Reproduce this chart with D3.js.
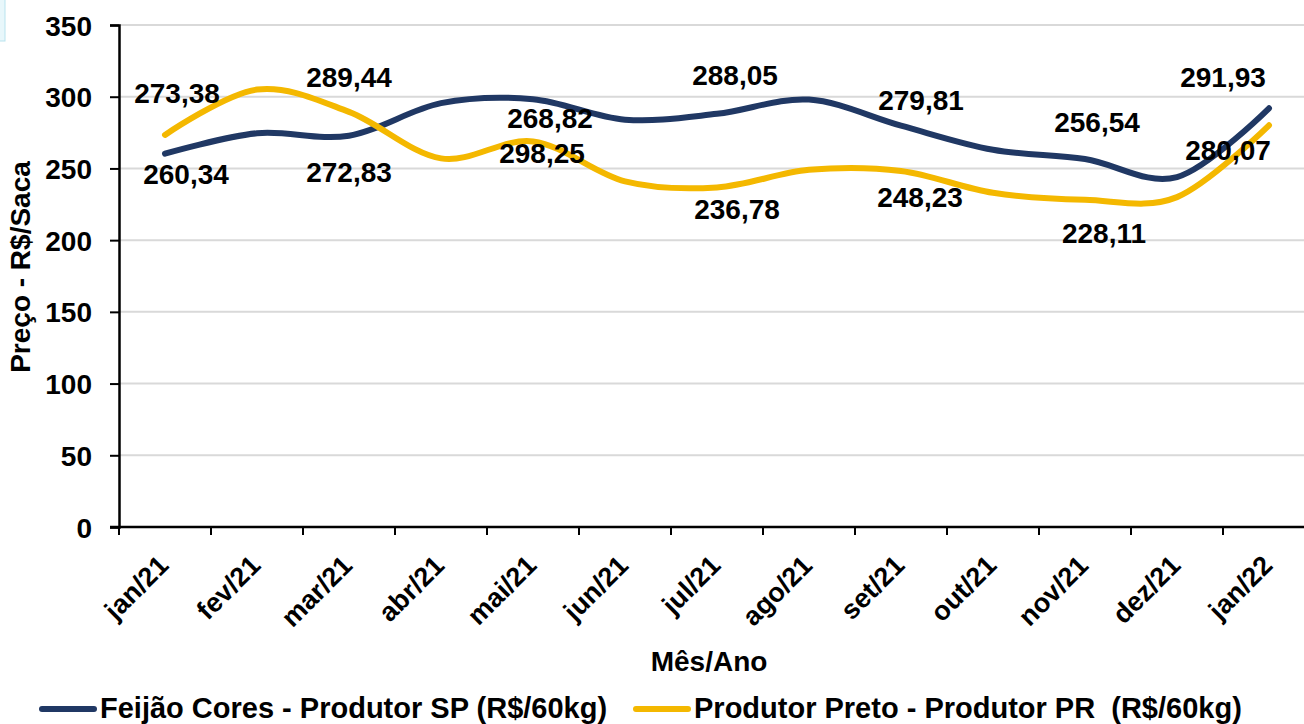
<!DOCTYPE html>
<html>
<head>
<meta charset="utf-8">
<script src="https://cdn.jsdelivr.net/npm/d3@7"></script>
<style>
  body { margin: 0; background: #fff; }
  text { font-family: "Liberation Sans", Arial, sans-serif; font-weight: bold; fill: #000; }
</style>
</head>
<body>
<script>
const months = ["jan/21", "fev/21", "mar/21", "abr/21", "mai/21", "jun/21", "jul/21",
                "ago/21", "set/21", "out/21", "nov/21", "dez/21", "jan/22"];
const coresSP = [260.34, 274.5, 272.83, 295.5, 298.25, 284, 288.05, 298, 279.81, 263, 256.54, 244, 291.93];
const pretoPR = [273.38, 305, 289.44, 257, 268.82, 241, 236.78, 249, 248.23, 233, 228.11, 230, 280.07];
const yTicks = [0, 50, 100, 150, 200, 250, 300, 350];
const labeled = [0, 2, 4, 6, 8, 10, 12];

// label offsets (px) from each point, per series
const coresDx = [21, 0, 0, 0, 9, 0, 18, 0, 20, 0, 12, 0, -46];
const coresDy = [20, 0, 36, 0, 54, 0, -39, 0, -26, 0, -37, 0, -31];
const pretoDx = [12, 0, 0, 0, 17, 0, 20, 0, 19, 0, 19, 0, -41];
const pretoDy = [-42, 0, -35, 0, -24, 0, 22, 0, 26, 0, 33, 0, 25];

const w = 1304, h = 724;
const plotLeft = 119, plotTop = 25, plotBottom = 527, band = 92;

const series = [
  {name: "Feijão Cores - Produtor SP (R$/60kg)", values: coresSP, color: "#203864", dx: coresDx, dy: coresDy},
  {name: "Produtor Preto - Produtor PR  (R$/60kg)", values: pretoPR, color: "#f4b800", dx: pretoDx, dy: pretoDy}
];

const ptBR = d3.formatLocale({decimal: ",", thousands: ".", grouping: [3], currency: ["R$", ""]});
const fmt = ptBR.format(".2f");

const xScale = d3.scaleBand()
                 .domain(months)
                 .range([plotLeft, plotLeft + band * months.length])
                 .padding(0);

const yScale = d3.scaleLinear()
                 .domain([0, 350])
                 .range([plotBottom, plotTop]);

const svg = d3.select("body")
              .append("svg")
              .attr("width", w)
              .attr("height", h)

// small pale box in the corner
svg.append("rect")
   .attr("x", -1).attr("y", -1)
   .attr("width", 6).attr("height", 42)
   .attr("fill", "#e8f7fb")
   .attr("stroke", "#b9e3ee")

// gridlines
svg.append("g")
   .selectAll("line")
   .data(yTicks.filter(d => d > 0))
   .enter()
   .append("line")
   .attr("x1", plotLeft)
   .attr("x2", w)
   .attr("y1", d => yScale(d))
   .attr("y2", d => yScale(d))
   .attr("stroke", "#d9d9d9")
   .attr("stroke-width", 2)

const yAxis = d3.axisLeft(yScale)
                .tickValues(yTicks)
                .tickSize(9)
                .tickPadding(18)

const gy = svg.append("g")
              .attr("id", "y-axis")
              .attr("transform", "translate(" + plotLeft + ",0)")
              .call(yAxis)
gy.select(".domain").attr("stroke", "#000").attr("stroke-width", 2.5)
gy.selectAll(".tick line").attr("stroke", "#000").attr("stroke-width", 2)
gy.selectAll(".tick text")
  .attr("font-size", "28px")
  .attr("dy", "0.36em")
  .attr("fill", "#000")
gy.attr("font-family", null)

// x axis: ticks on category boundaries
const boundaries = months.map(m => xScale(m)).concat([xScale(months[months.length - 1]) + xScale.bandwidth()]);
const gx = svg.append("g").attr("id", "x-axis")
gx.selectAll("line.tk")
  .data(boundaries)
  .enter()
  .append("line")
  .attr("class", "tk")
  .attr("x1", d => d).attr("x2", d => d)
  .attr("y1", plotBottom).attr("y2", plotBottom + 8)
  .attr("stroke", "#000")
  .attr("stroke-width", 2)
gx.append("line")
  .attr("x1", plotLeft - 9).attr("x2", w)
  .attr("y1", plotBottom).attr("y2", plotBottom)
  .attr("stroke", "#000")
  .attr("stroke-width", 2.5)
gx.selectAll("text")
  .data(months)
  .enter()
  .append("text")
  .attr("transform", d => "translate(" + (xScale(d) + xScale.bandwidth() / 2 + 5) + "," + 567 + ") rotate(-45)")
  .attr("text-anchor", "end")
  .attr("font-size", "27px")
  .text(d => d)

// lines
const line = d3.line()
               .x((d, i) => xScale(months[i]) + xScale.bandwidth() / 2)
               .y(d => yScale(d))
               .curve(d3.curveCardinal.tension(0))

series.forEach(function(s) {
  svg.append("path")
     .datum(s.values)
     .attr("d", line)
     .attr("fill", "none")
     .attr("stroke", s.color)
     .attr("stroke-width", 6)
     .attr("stroke-linecap", "round")
})

// data labels
series.forEach(function(s) {
  svg.append("g")
     .selectAll("text")
     .data(labeled)
     .enter()
     .append("text")
     .attr("x", i => xScale(months[i]) + xScale.bandwidth() / 2 + s.dx[i])
     .attr("y", i => yScale(s.values[i]) + s.dy[i])
     .attr("dy", "0.36em")
     .attr("text-anchor", "middle")
     .attr("font-size", "28px")
     .text(i => fmt(s.values[i]))
})

svg.append("text")
   .text("Preço - R$/Saca")
   .attr("transform", "translate(30,267) rotate(-90)")
   .attr("text-anchor", "middle")
   .attr("font-size", "28px")

svg.append("text")
   .text("Mês/Ano")
   .attr("x", 709)
   .attr("y", 671)
   .attr("text-anchor", "middle")
   .attr("font-size", "28px")

// legend
const legendX = [42, 636];
series.forEach(function(s, i) {
  svg.append("line")
     .attr("x1", legendX[i]).attr("x2", legendX[i] + 52)
     .attr("y1", 709).attr("y2", 709)
     .attr("stroke", s.color)
     .attr("stroke-width", 6)
     .attr("stroke-linecap", "round")
  svg.append("text")
     .attr("x", legendX[i] + 58)
     .attr("y", 718)
     .attr("font-size", "29px")
     .style("white-space", "pre")
     .text(s.name)
})
</script>
</body>
</html>
